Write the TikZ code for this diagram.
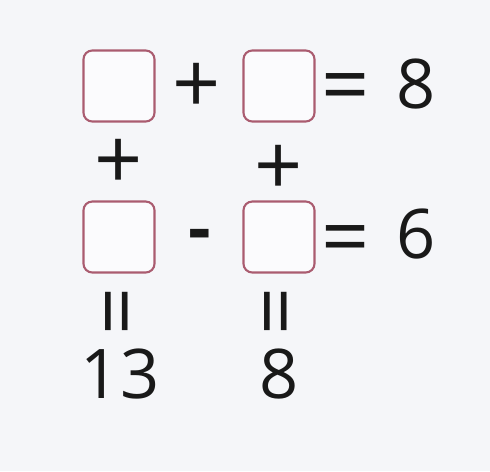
\documentclass[tikz,border=0pt]{standalone}
\usepackage{fontspec}
\setmainfont{Open Sans}
\usepackage{tikz}
\usetikzlibrary{positioning}

\definecolor{boxline}{RGB}{170,92,112}
\definecolor{paper}{RGB}{245,246,249}

\begin{document}
\begin{tikzpicture}[x=0.02cm, y=-0.02cm,
        cell/.style={draw=boxline, line width=1.2pt, rounded corners=5pt, fill=white!60!paper,
                     minimum width=1.42cm, minimum height=1.42cm, inner sep=0pt},
        sym/.style={font=\fontsize{39}{41}\selectfont, inner sep=0pt, text=black!90},
        op/.style={font=\fontsize{48}{50}\selectfont, inner sep=0pt, text=black!90},
    ]
    % ---- Background ----
    \fill[paper] (0,0) rectangle (490,471);
    \useasboundingbox (0,0) rectangle (490,471);

    % ---- Top row: box + box = 8 ----
    \node[cell] (a1) at (119,86) {};
    \node[cell] (b1) at (279,86) {};
    \node[op] (p1) at (197,88) {+};
    \node[op] (e1) at (346,94) {=};
    \node[sym] (r1) at (416,84) {8};

    % ---- Column operators ----
    \node[op] (pa) at (119,164) {+};
    \node[op] (pb) at (279,170) {+};

    % ---- Bottom row: box - box = 6 ----
    \node[cell] (a2) at (119,237) {};
    \node[cell] (b2) at (279,237) {};
    \node[sym, font=\fontsize{40}{42}\selectfont\bfseries] (m2) at (200,241) {-};
    \node[op] (e2) at (346,246) {=};
    \node[sym] (r2) at (416,234) {6};

    % ---- Column results ----
    \node[op, rotate=90] (ea) at (126,311) {=};
    \node[op, rotate=90] (eb) at (285,311) {=};
    \node[sym] (ca) at (120,374) {13};
    \node[sym] (cb) at (279,374) {8};
\end{tikzpicture}
\end{document}
